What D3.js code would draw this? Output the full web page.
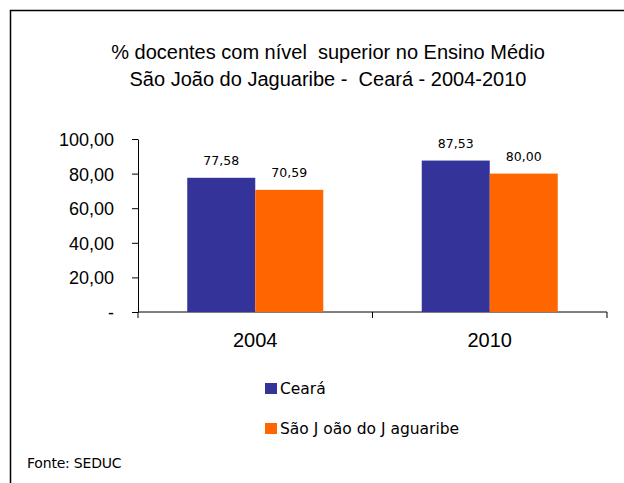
<!DOCTYPE html>
<html lang="pt">
<head>
    <meta charset="utf-8" />
    <style>
        body { margin: 0; background: #fff; }
        text { white-space: pre; }
        .axis path, .axis line { stroke: #000; }
        .axis text { font-family: "Liberation Sans", Arial, sans-serif; font-size: 18px; fill: #000; }
    </style>
</head>
<body>
<svg width="624" height="483"></svg>
<script src="https://cdn.jsdelivr.net/npm/d3@7"></script>
<script>

    var years = ["2004", "2010"],
        seriesNames = ["Ceará", "São J oão do J aguaribe"],
        ceara = [77.58, 87.53],
        saoJoao = [70.59, 80.00],
        yTicks = [0, 20, 40, 60, 80, 100],
        colors = ["#333399", "#ff6600"];

    var svg = d3.select("svg");

    // outer frame (open at right and bottom)
    svg.append("path")
        .attr("d", "M10.5,483 L10.5,10.5 L624,10.5")
        .attr("fill", "none")
        .attr("stroke", "#000")
        .attr("stroke-width", 1.5);

    var title = svg.append("text")
        .attr("text-anchor", "middle")
        .style("font-family", "'Liberation Sans', Arial, sans-serif")
        .style("font-size", "20px");
    title.append("tspan").attr("x", 328).attr("y", 59).text("% docentes com nível  superior no Ensino Médio");
    title.append("tspan").attr("x", 328).attr("y", 86).text("São João do Jaguaribe -  Ceará - 2004-2010");

    var plotLeft = 138, plotRight = 607, plotTop = 139, plotBottom = 312;

    var y = d3.scaleLinear().domain([0, 100]).range([plotBottom, plotTop]);
    var x0 = d3.scaleBand().domain(years).range([plotLeft, plotRight]).paddingInner(0.42).paddingOuter(0.21);
    var x1 = d3.scaleBand().domain([0, 1]).range([0, x0.bandwidth()]);

    var fmt = function(v) { return v === 0 ? "-" : d3.format(".2f")(v).replace(".", ","); };

    svg.append("g")
        .attr("class", "axis")
        .attr("transform", "translate(" + plotLeft + ",0)")
        .call(d3.axisLeft(y).tickValues(yTicks).tickFormat(fmt).tickSize(6).tickPadding(18).tickSizeOuter(0))
        .selectAll("text").attr("dy", "0.36em");

    var xAxis = svg.append("g")
        .attr("class", "axis")
        .attr("transform", "translate(0," + plotBottom + ")");
    xAxis.append("line").attr("x1", plotLeft).attr("x2", plotRight).attr("stroke", "#000");
    // category separators
    var bounds = [plotLeft].concat(years.map(function(d) { return x0(d) + x0.bandwidth() / 2 + x0.step() / 2; }));
    xAxis.selectAll(".sep").data(bounds).enter().append("line")
        .attr("x1", function(d) { return d; }).attr("x2", function(d) { return d; })
        .attr("y1", 0).attr("y2", 6).attr("stroke", "#000");
    xAxis.selectAll(".lab").data(years).enter().append("text")
        .attr("x", function(d) { return x0(d) + x0.bandwidth() / 2; })
        .attr("y", 35)
        .attr("text-anchor", "middle")
        .style("font-size", "20px")
        .text(function(d) { return d; });

    var series = [ceara, saoJoao];
    series.forEach(function(vals, s) {
        svg.selectAll(".bar" + s).data(vals).enter().append("rect")
            .attr("x", function(d, i) { return x0(years[i]) + x1(s); })
            .attr("y", function(d) { return y(d); })
            .attr("width", x1.bandwidth())
            .attr("height", function(d) { return plotBottom - y(d); })
            .attr("fill", colors[s]);
        svg.selectAll(".val" + s).data(vals).enter().append("text")
            .attr("x", function(d, i) { return x0(years[i]) + x1(s) + x1.bandwidth() / 2; })
            .attr("y", function(d) { return y(d) - 13; })
            .attr("text-anchor", "middle")
            .style("font-family", "'DejaVu Sans', Verdana, sans-serif")
            .style("font-size", "12.5px")
            .text(fmt);
    });

    var legend = svg.selectAll(".leg").data(seriesNames).enter().append("g")
        .attr("transform", function(d, i) { return "translate(265," + (383 + i * 40) + ")"; });
    legend.append("rect").attr("width", 12).attr("height", 11)
        .attr("fill", function(d, i) { return colors[i]; });
    legend.append("text")
        .attr("x", 15).attr("y", 11)
        .style("font-family", "'DejaVu Sans', Verdana, sans-serif")
        .style("font-size", "15.5px")
        .text(function(d) { return d; });

    svg.append("text")
        .attr("x", 27).attr("y", 468)
        .style("font-family", "'DejaVu Sans', Verdana, sans-serif")
        .style("font-size", "14px")
        .style("letter-spacing", "-0.2px")
        .text("Fonte: SEDUC");

</script>
</body>
</html>
